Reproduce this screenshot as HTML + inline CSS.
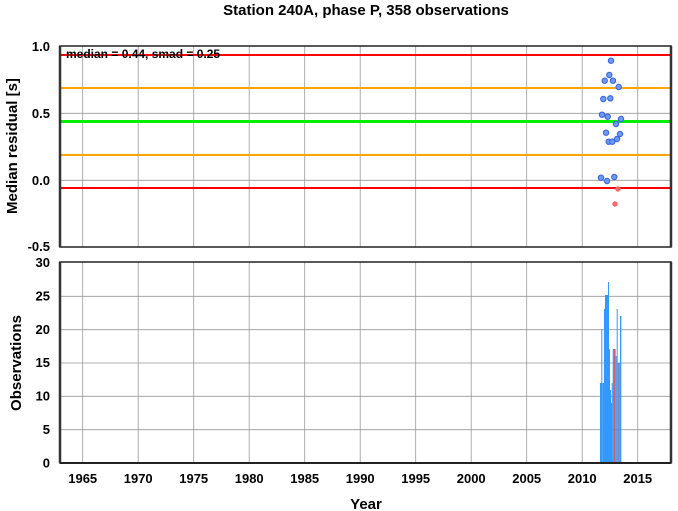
<!DOCTYPE html>
<html><head><meta charset="utf-8"><style>
html,body{margin:0;padding:0;background:#fff}
svg{display:block;font-family:"Liberation Sans",Arial,sans-serif;font-weight:bold}
</style></head><body>
<svg width="678" height="511" viewBox="0 0 678 511" xmlns="http://www.w3.org/2000/svg">
<text x="366" y="15" font-size="15" text-anchor="middle">Station 240A, phase P, 358 observations</text>
<g stroke="#999" stroke-width="0.8">
<line x1="60" y1="113.3" x2="671" y2="113.3"/><line x1="60" y1="180.3" x2="671" y2="180.3"/>
<line x1="82.7" y1="46" x2="82.7" y2="247"/><line x1="138.2" y1="46" x2="138.2" y2="247"/><line x1="193.7" y1="46" x2="193.7" y2="247"/><line x1="249.2" y1="46" x2="249.2" y2="247"/><line x1="304.7" y1="46" x2="304.7" y2="247"/><line x1="360.2" y1="46" x2="360.2" y2="247"/><line x1="415.7" y1="46" x2="415.7" y2="247"/><line x1="471.2" y1="46" x2="471.2" y2="247"/><line x1="526.7" y1="46" x2="526.7" y2="247"/><line x1="582.2" y1="46" x2="582.2" y2="247"/><line x1="637.7" y1="46" x2="637.7" y2="247"/>
</g>
<line x1="60" y1="55" x2="671" y2="55" stroke="#f00" stroke-width="2"/>
<line x1="60" y1="88" x2="671" y2="88" stroke="#ffa500" stroke-width="2"/>
<line x1="60" y1="121.5" x2="671" y2="121.5" stroke="#0e0" stroke-width="3"/>
<line x1="60" y1="155" x2="671" y2="155" stroke="#ffa500" stroke-width="2"/>
<line x1="60" y1="188" x2="671" y2="188" stroke="#f00" stroke-width="2"/>
<text x="66" y="58" font-size="12">median = 0.44, smad = 0.25</text>
<g fill="#6a9cf0" stroke="#3a5ee8" stroke-width="1">
<circle cx="611" cy="60.7" r="2.7"/><circle cx="609.3" cy="75" r="2.7"/><circle cx="604.7" cy="80.7" r="2.7"/><circle cx="613" cy="80.7" r="2.7"/><circle cx="618.7" cy="87" r="2.7"/><circle cx="603.3" cy="99" r="2.7"/><circle cx="610.3" cy="98.3" r="2.7"/><circle cx="602" cy="114.7" r="2.7"/><circle cx="607.7" cy="116.7" r="2.7"/><circle cx="621" cy="119" r="2.7"/><circle cx="616" cy="124" r="2.7"/><circle cx="606" cy="132.7" r="2.7"/><circle cx="620" cy="134" r="2.7"/><circle cx="617" cy="139" r="2.7"/><circle cx="608.7" cy="141.7" r="2.7"/><circle cx="612.3" cy="141.7" r="2.7"/><circle cx="601" cy="177.7" r="2.7"/><circle cx="607" cy="181" r="2.7"/><circle cx="614.3" cy="177" r="2.7"/>
</g>
<circle cx="618" cy="189" r="2.7" fill="#f66"/><circle cx="615" cy="204" r="2.7" fill="#f66"/>
<rect x="60" y="46" width="611" height="201" fill="none" stroke="#222" stroke-width="1.5"/>
<line x1="60" y1="46" x2="60" y2="247" stroke="#333" stroke-width="2.5"/>
<line x1="671" y1="46" x2="671" y2="247" stroke="#333" stroke-width="2.5"/>
<g font-size="13" text-anchor="end">
<text x="50" y="51">1.0</text><text x="50" y="118">0.5</text><text x="50" y="185">0.0</text><text x="50" y="251">-0.5</text>
</g>
<text transform="translate(17,146) rotate(-90)" font-size="15" text-anchor="middle">Median residual [s]</text>
<g stroke="#999" stroke-width="0.8">
<line x1="60" y1="296.3" x2="671" y2="296.3"/><line x1="60" y1="329.7" x2="671" y2="329.7"/><line x1="60" y1="363" x2="671" y2="363"/><line x1="60" y1="396.3" x2="671" y2="396.3"/><line x1="60" y1="429.7" x2="671" y2="429.7"/>
<line x1="82.7" y1="262" x2="82.7" y2="463"/><line x1="138.2" y1="262" x2="138.2" y2="463"/><line x1="193.7" y1="262" x2="193.7" y2="463"/><line x1="249.2" y1="262" x2="249.2" y2="463"/><line x1="304.7" y1="262" x2="304.7" y2="463"/><line x1="360.2" y1="262" x2="360.2" y2="463"/><line x1="415.7" y1="262" x2="415.7" y2="463"/><line x1="471.2" y1="262" x2="471.2" y2="463"/><line x1="526.7" y1="262" x2="526.7" y2="463"/><line x1="582.2" y1="262" x2="582.2" y2="463"/><line x1="637.7" y1="262" x2="637.7" y2="463"/>
</g>
<g fill="#3399ff">
<rect x="600" y="383" width="2" height="80"/><rect x="601.3" y="329" width="1" height="134"/><rect x="602.3" y="383" width="1.7" height="80"/><rect x="604" y="309" width="1.2" height="154"/><rect x="605" y="295" width="2.7" height="168"/><rect x="608" y="282" width="1" height="181"/><rect x="607" y="295" width="1" height="168"/><rect x="609" y="349" width="1" height="114"/><rect x="610" y="390" width="1" height="73"/><rect x="611" y="403" width="1" height="60"/><rect x="611.7" y="383" width="1" height="80"/><rect x="612.7" y="349" width="1" height="114"/><rect x="614.7" y="349" width="1" height="114"/><rect x="615.7" y="356" width="1" height="107"/><rect x="616.7" y="309" width="1" height="154"/><rect x="617.7" y="363" width="1" height="100"/><rect x="620" y="316" width="1.3" height="147"/>
</g>
<rect x="613.7" y="349" width="1" height="114" fill="#e33"/>
<rect x="618.7" y="363" width="1" height="100" fill="#e33"/>
<rect x="60" y="262" width="611" height="201" fill="none" stroke="#222" stroke-width="1.5"/>
<line x1="60" y1="262" x2="60" y2="463" stroke="#333" stroke-width="2.5"/>
<line x1="671" y1="262" x2="671" y2="463" stroke="#333" stroke-width="2.5"/>
<line x1="60" y1="463" x2="671" y2="463" stroke="#222" stroke-width="2"/>
<g font-size="13" text-anchor="end">
<text x="50" y="267">30</text><text x="50" y="300.5">25</text><text x="50" y="334">20</text><text x="50" y="367">15</text><text x="50" y="400.5">10</text><text x="50" y="434">5</text><text x="50" y="467.5">0</text>
</g>
<g font-size="13" text-anchor="middle">
<text x="82.7" y="483">1965</text><text x="138.2" y="483">1970</text><text x="193.7" y="483">1975</text><text x="249.2" y="483">1980</text><text x="304.7" y="483">1985</text><text x="360.2" y="483">1990</text><text x="415.7" y="483">1995</text><text x="471.2" y="483">2000</text><text x="526.7" y="483">2005</text><text x="582.2" y="483">2010</text><text x="637.7" y="483">2015</text>
</g>
<text transform="translate(21,363) rotate(-90)" font-size="15" text-anchor="middle">Observations</text>
<text x="366" y="509" font-size="15" text-anchor="middle">Year</text>
</svg>
</body></html>
